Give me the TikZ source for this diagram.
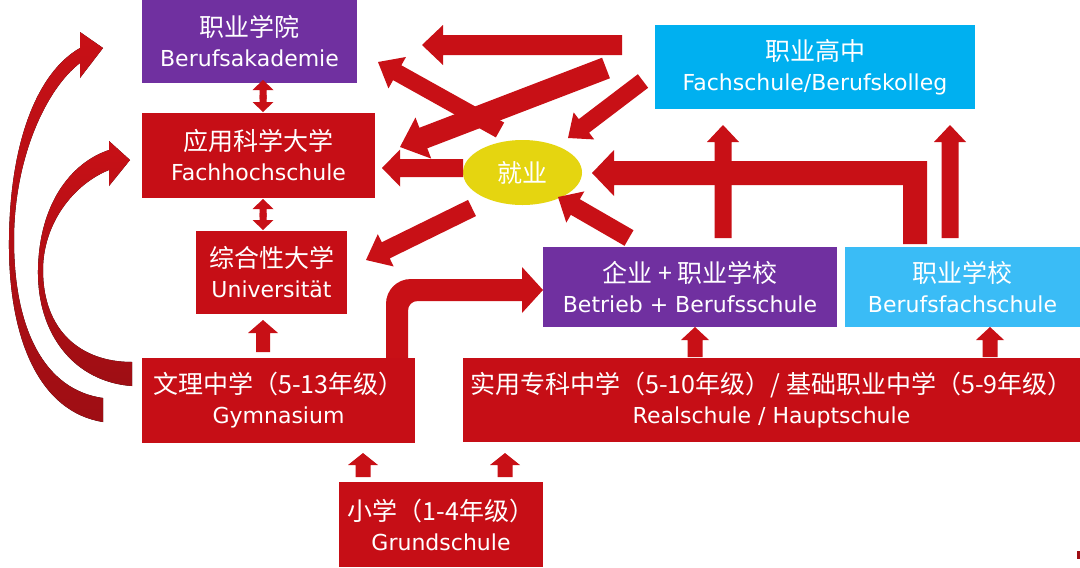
\documentclass[tikz,border=0pt]{standalone}
\usepackage{fontspec}
\setmainfont{DejaVu Sans}
\newfontfamily\cjk{Noto Sans CJK SC}
\usetikzlibrary{calc,shapes.geometric}
\definecolor{boxred}{RGB}{198,14,22}
\definecolor{arrowred}{RGB}{200,16,22}
\definecolor{arrowdark}{RGB}{158,14,20}
\definecolor{boxpurple}{RGB}{112,48,160}
\definecolor{boxblue}{RGB}{0,176,240}
\definecolor{boxlightblue}{RGB}{58,188,246}
\definecolor{jobyellow}{RGB}{229,213,16}
\newcommand\zh[1]{{\cjk\fontsize{25}{30}\selectfont #1}}
% block arrow: start, end, shaft half width, head half width, head length
\newcommand\barrow[5]{%
  \coordinate (bah) at ($(#2)!#5!(#1)$);
  \fill[arrowred] ($(#1)!#3!90:(#2)$) -- ($(bah)!#3!90:(#2)$) -- ($(bah)!#4!90:(#2)$) -- (#2)
    -- ($(bah)!#4!-90:(#2)$) -- ($(bah)!#3!-90:(#2)$) -- ($(#1)!#3!-90:(#2)$) -- cycle;
}
\begin{document}
\begin{tikzpicture}[x=1pt,y=-1pt,
  box/.style={rectangle, inner sep=0pt, text=white, align=center, font=\fontsize{22}{30}\selectfont},
  redbox/.style={box, fill=boxred},
  curvearrow/.style={top color=arrowred, bottom color=arrowdark}]
\fill[white] (0,0) rectangle (1080,568);
\useasboundingbox (0,0) rectangle (1080,568);

% ---------- boxes ----------
\node[box, fill=boxpurple, minimum width=215pt, minimum height=83pt] (ba) at (249.5,41.5) {\zh{职业学院}\\Berufsakademie};
\node[redbox, minimum width=233pt, minimum height=85pt] (fh) at (258.5,155.5) {\zh{应用科学大学}\\Fachhochschule};
\node[redbox, minimum width=151pt, minimum height=83pt] (uni) at (271.5,272.5) {\zh{综合性大学}\\Universität};
\node[redbox, minimum width=273pt, minimum height=85pt] (gym) at (278.5,400.5) {\zh{文理中学（5-13年级）}\\Gymnasium};
\node[redbox, minimum width=617pt, minimum height=84pt] (real) at (771.5,400) {\zh{实用专科中学（5-10年级）/ 基础职业中学（5-9年级）}\\Realschule / Hauptschule};
\node[redbox, minimum width=204pt, minimum height=85pt] (gs) at (441,524.5) {\zh{小学（1-4年级）}\\Grundschule};
\node[box, fill=boxpurple, minimum width=294pt, minimum height=80pt] (bb) at (690,287) {\zh{企业 + 职业学校}\\Betrieb + Berufsschule};
\node[box, fill=boxlightblue, minimum width=235pt, minimum height=80pt] (bfs) at (962.5,287) {\zh{职业学校}\\Berufsfachschule};
\node[box, fill=boxblue, minimum width=320pt, minimum height=84pt] (fs) at (815,67) {\zh{职业高中}\\Fachschule/Berufskolleg};
\node[ellipse, fill=jobyellow, minimum width=119pt, minimum height=65pt, inner sep=0pt, text=white] (job) at (522.5,172.5) {\zh{就业}};

% ---------- double arrows between universities ----------
\coordinate (d1u) at (263,99); \coordinate (d1d) at (263,95);
\coordinate (d1t) at (263,80); \coordinate (d1b) at (263,112);
\barrow{d1u}{d1t}{3.5pt}{10.5pt}{10pt}
\barrow{d1d}{d1b}{3.5pt}{10.5pt}{10pt}
\coordinate (d2u) at (263,217); \coordinate (d2d) at (263,213);
\coordinate (d2t) at (263,199); \coordinate (d2b) at (263,230);
\barrow{d2u}{d2t}{3.5pt}{10.5pt}{10pt}
\barrow{d2d}{d2b}{3.5pt}{10.5pt}{10pt}

% ---------- small up arrows ----------
\coordinate (cS) at (263,352); \coordinate (cE) at (263,320);
\barrow{cS}{cE}{7pt}{15pt}{13pt}
\coordinate (g1S) at (363,477); \coordinate (g1E) at (363,453);
\barrow{g1S}{g1E}{7.5pt}{15pt}{12pt}
\coordinate (g2S) at (505,477); \coordinate (g2E) at (505,453);
\barrow{g2S}{g2E}{7.5pt}{15pt}{12pt}
\coordinate (r1S) at (695,357); \coordinate (r1E) at (695,327);
\barrow{r1S}{r1E}{7.5pt}{14pt}{13pt}
\coordinate (r2S) at (990,357); \coordinate (r2E) at (990,327);
\barrow{r2S}{r2E}{7.5pt}{14pt}{13pt}

% ---------- up arrows to Fachschule ----------
\coordinate (u1S) at (723,238); \coordinate (u1E) at (723,125);
\barrow{u1S}{u1E}{8.5pt}{16pt}{17pt}
\coordinate (u2S) at (950,238); \coordinate (u2E) at (950,125);
\barrow{u2S}{u2E}{8.5pt}{16pt}{17pt}

% ---------- L arrow from Berufsfachschule to job ----------
\fill[arrowred] (903,244) -- (903,185) -- (614,185) -- (614,196) -- (592,173)
  -- (614,150) -- (614,161) -- (927,161) -- (927,244) -- cycle;

% ---------- arrows around job ----------
\coordinate (kS) at (622,45); \coordinate (kE) at (422,45);
\barrow{kS}{kE}{10pt}{20pt}{21pt}
\coordinate (lS) at (606,68); \coordinate (lE) at (400,147);
\barrow{lS}{lE}{11pt}{22pt}{25pt}
\coordinate (mS) at (500,130); \coordinate (mE) at (378,62);
\barrow{mS}{mE}{8.5pt}{18pt}{22pt}
\coordinate (jS) at (643,81); \coordinate (jE) at (568,138);
\barrow{jS}{jE}{8.5pt}{17pt}{20pt}
\coordinate (nS) at (463,168); \coordinate (nE) at (382,168);
\barrow{nS}{nE}{9pt}{18.5pt}{18pt}
\coordinate (oS) at (472,208); \coordinate (oE) at (366,260);
\barrow{oS}{oE}{9pt}{18pt}{22pt}
\coordinate (iS) at (629,238); \coordinate (iE) at (558,197);
\barrow{iS}{iE}{9pt}{18pt}{20pt}

% ---------- bent arrow Gymnasium -> Betrieb ----------
\fill[arrowred] (386,358) -- (386,304) .. controls (386,290) and (397,279) .. (411,279)
  -- (522,279) -- (522,267) -- (543,290) -- (522,313) -- (522,301) -- (418,301)
  .. controls (412,301) and (408,305) .. (408,311) -- (408,358) -- cycle;

% ---------- left curved arrows ----------
\fill[curvearrow] (103,422) .. controls (40,412) and (8,340) .. (9,240)
  .. controls (10,140) and (38,72) .. (80,48) -- (80,32) -- (103,48) -- (80,78) -- (80,63)
  .. controls (45,90) and (14,160) .. (14,240)
  .. controls (14,330) and (45,390) .. (103,398) -- cycle;
\fill[curvearrow] (132,386) .. controls (75,382) and (37,335) .. (38,270)
  .. controls (39,205) and (70,163) .. (109,150) -- (109,141) -- (130,160) -- (109,186) -- (109,170)
  .. controls (72,185) and (43,225) .. (43,270)
  .. controls (43,330) and (80,362) .. (132,362) -- cycle;

% tiny mark bottom right
\fill[arrowdark] (1077,551) rectangle (1080,559);
\end{tikzpicture}
\end{document}
